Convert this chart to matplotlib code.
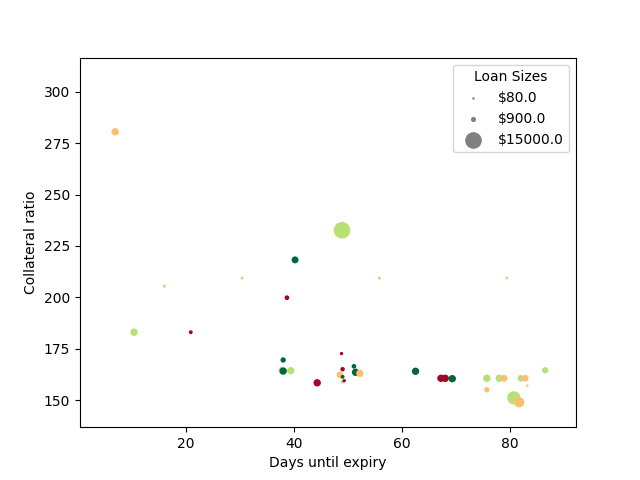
import numpy as np
import matplotlib
matplotlib.use('Agg')
import matplotlib.pyplot as plt
from matplotlib.ticker import MultipleLocator

# days until expiry, collateral ratio, loan size ($), risk bucket (0 = red ... 3 = green)
days = [6.9, 10.4, 16.0, 20.9, 30.4, 38.7, 40.2, 48.9, 55.8, 79.4,
        38.0, 37.8, 38.0, 39.4, 44.3, 48.8, 49.0, 48.5, 49.0, 49.0, 49.3, 51.1, 51.4, 52.2,
        62.5, 67.2, 68.0, 69.3,
        75.7, 75.7, 78.0, 78.9, 82.0, 82.8, 83.2, 86.5, 80.7, 81.7]
ratio = [280.5, 183.0, 205.4, 183.0, 209.3, 199.8, 218.2, 232.6, 209.3, 209.4,
         169.5, 164.5, 164.1, 164.3, 158.4, 172.6, 165.0, 162.3, 161.3, 158.9, 159.4, 166.4, 163.5, 163.0,
         164.0, 160.6, 160.6, 160.4,
         160.6, 155.0, 160.6, 160.6, 160.6, 160.6, 157.0, 164.5, 151.1, 148.9]
loans = [2300, 2300, 150, 400, 150, 700, 2000, 15000, 150, 150,
         1000, 2000, 2300, 2300, 2300, 250, 600, 1800, 400, 300, 250, 700, 2300, 2300,
         2300, 2300, 2300, 2300,
         2300, 1000, 2300, 2000, 1800, 1800, 80, 1500, 9000, 5000]
risk = [1, 2, 1, 0, 2, 0, 3, 2, 1, 1,
        3, 1, 3, 2, 0, 0, 0, 1, 3, 2, 0, 3, 3, 1,
        3, 0, 0, 3,
        2, 1, 2, 1, 2, 1, 1, 2, 2, 1]

legend_loans = [80.0, 900.0, 15000.0]

scale = 125.0

fig, ax = plt.subplots(figsize=(6.4, 4.8), dpi=100)
ax.scatter(days, ratio, s=np.array(loans) / scale, c=risk, cmap='RdYlGn', vmin=0, vmax=3)

handles = []
for l in legend_loans:
    h = ax.scatter([], [], s=l / scale, color='gray')
    handles.append(h)
ax.legend(handles, ['$' + str(l) for l in legend_loans], title='Loan Sizes', loc='upper right')

ax.set_xlim(0.4, 92.2)
ax.set_ylim(136.8, 316.6)
ax.yaxis.set_major_locator(MultipleLocator(25))
ax.set_xlabel('Days until expiry')
ax.set_ylabel('Collateral ratio')

plt.savefig('out.png')
